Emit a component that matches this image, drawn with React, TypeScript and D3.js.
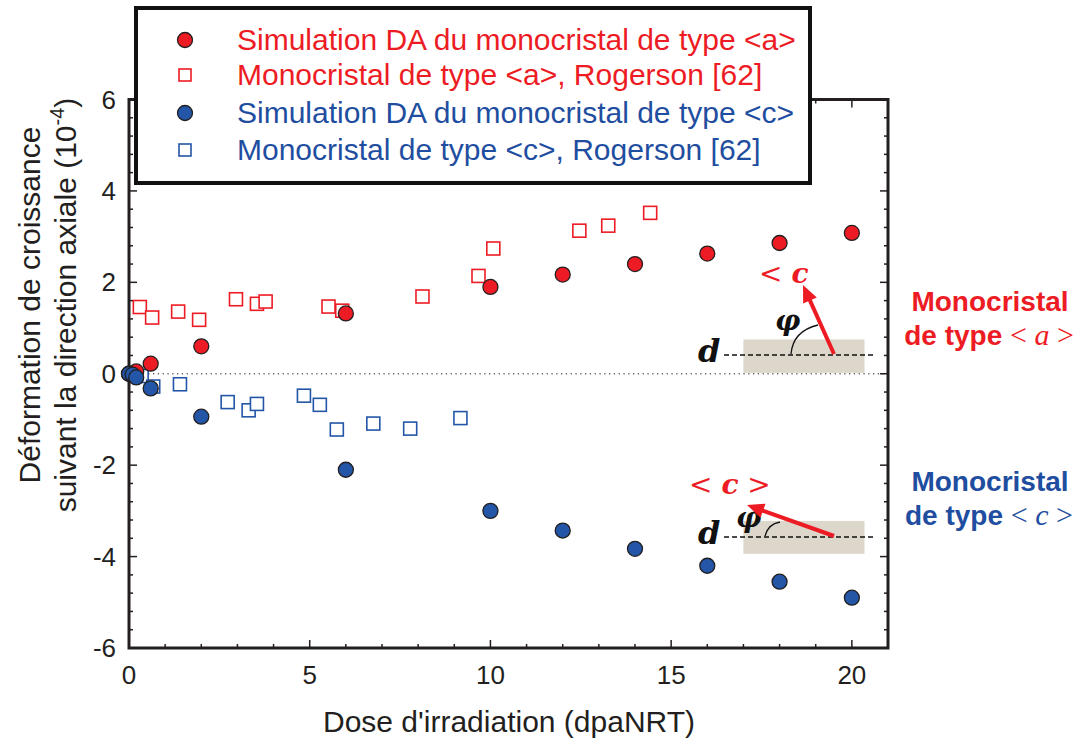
import React from "react";
import * as d3 from "d3";

const simAX = [0, 0.2, 0.6, 2, 6, 10, 12, 14, 16, 18, 20];
const simAY = [0, 0.05, 0.22, 0.6, 1.32, 1.9, 2.17, 2.4, 2.63, 2.86, 3.08];
const simCX = [0, 0.1, 0.2, 0.6, 2, 6, 10, 12, 14, 16, 18, 20];
const simCY = [0, -0.02, -0.08, -0.32, -0.94, -2.1, -3.0, -3.43, -3.83, -4.2, -4.55, -4.9];
const rogAX = [0.3, 0.64, 1.36, 1.94, 2.96, 3.54, 3.78, 5.52, 5.9, 8.12, 9.67, 10.08, 12.46, 13.26, 14.42];
const rogAY = [1.46, 1.23, 1.36, 1.18, 1.63, 1.53, 1.58, 1.47, 1.38, 1.69, 2.14, 2.74, 3.13, 3.24, 3.52];
const rogCX = [0.35, 0.67, 1.41, 2.73, 3.31, 3.54, 4.84, 5.28, 5.75, 6.76, 7.78, 9.17];
const rogCY = [-0.05, -0.28, -0.23, -0.62, -0.8, -0.66, -0.48, -0.68, -1.22, -1.09, -1.2, -0.97];
const xMajorTicks = [0, 5, 10, 15, 20];
const yMajorTicks = [-6, -4, -2, 0, 2, 4, 6];
const legendLabels = [
  "Simulation DA du monocristal de type <a>",
  "Monocristal de type <a>, Rogerson [62]",
  "Simulation DA du monocristal de type <c>",
  "Monocristal de type <c>, Rogerson [62]",
];

const RED = "#ed1c24";
const BLUE = "#2356a6";
const BLUE_TXT = "#1f4ea0";
const DARK = "#231f20";
const SANS = "'Liberation Sans', Arial, sans-serif";
const SERIF = "'DejaVu Serif', 'Liberation Serif', serif";
const SERIF2 = "'Liberation Serif', serif";

const L = 129, R = 888, T = 99.5, B = 648;

export default function App() {
  const x = d3.scaleLinear().domain([0, 21]).range([L, R]);
  const y = d3.scaleLinear().domain([-6, 6]).range([B, T]);
  const xMinor = d3.range(0, 21.01, 1);
  const yMinor = d3.range(-6, 6.01, 0.4);
  const pts = (xs: number[], ys: number[]) => xs.map((v, i) => [v, ys[i]] as [number, number]);

  const arrow = (x1: number, y1: number, x2: number, y2: number) => {
    const dx = x2 - x1, dy = y2 - y1;
    const len = Math.hypot(dx, dy);
    const ux = dx / len, uy = dy / len;
    const hl = 17, hw = 7.5;
    const bx = x2 - ux * hl, by = y2 - uy * hl;
    const p = [
      [x2, y2],
      [bx - uy * hw, by + ux * hw],
      [bx + uy * hw, by - ux * hw],
    ];
    return (
      <g>
        <line x1={x1} y1={y1} x2={bx + ux * 2} y2={by + uy * 2} stroke={RED} strokeWidth={4} />
        <polygon points={p.map((q) => q.join(",")).join(" ")} fill={RED} />
      </g>
    );
  };

  return (
    <svg width={1082} height={745} style={{ position: "absolute", left: 0, top: 0, background: "#fff" }} fontFamily={SANS}>
      {/* zero line */}
      <line x1={L} x2={R} y1={y(0)} y2={y(0)} stroke="#666" strokeWidth={1.3} strokeDasharray="1.3,3.5" />
      {/* ticks */}
      {xMinor.map((t) => {
        const len = xMajorTicks.includes(t) ? 8 : 4;
        return (
          <g key={"xt" + t}>
            <line x1={x(t)} x2={x(t)} y1={B} y2={B - len} stroke={DARK} strokeWidth={1.5} />
            <line x1={x(t)} x2={x(t)} y1={T} y2={T + len} stroke={DARK} strokeWidth={1.5} />
          </g>
        );
      })}
      {yMinor.map((t) => {
        const major = yMajorTicks.some((m) => Math.abs(m - t) < 1e-6);
        const len = major ? 8 : 4;
        return (
          <g key={"yt" + t}>
            <line x1={L} x2={L + len} y1={y(t)} y2={y(t)} stroke={DARK} strokeWidth={1.5} />
            <line x1={R} x2={R - len} y1={y(t)} y2={y(t)} stroke={DARK} strokeWidth={1.5} />
          </g>
        );
      })}
      <rect x={L} y={T} width={R - L} height={B - T} fill="none" stroke={DARK} strokeWidth={3} />
      {/* tick labels */}
      {xMajorTicks.map((t) => (
        <text key={"xl" + t} x={x(t)} y={684} textAnchor="middle" fontSize={26} fill={DARK}>
          {t}
        </text>
      ))}
      {yMajorTicks.map((t) => (
        <text key={"yl" + t} x={116} y={y(t) + 9} textAnchor="end" fontSize={26} fill={DARK}>
          {t}
        </text>
      ))}
      {/* axis titles */}
      <text x={509} y={732} textAnchor="middle" fontSize={30} fill={DARK}>
        Dose d'irradiation (dpaNRT)
      </text>
      <g transform="translate(30,305) rotate(-90)">
        <text x={0} y={10} textAnchor="middle" fontSize={30} fill={DARK}>
          Déformation de croissance
        </text>
      </g>
      <g transform="translate(66,305) rotate(-90)">
        <text x={0} y={10} textAnchor="middle" fontSize={30} fill={DARK}>
          suivant la direction axiale (10
          <tspan fontSize={20} dy={-12}>-4</tspan>
          <tspan dy={12}>)</tspan>
        </text>
      </g>

      {/* insets */}
      <rect x={x(17)} y={y(0.75)} width={x(20.35) - x(17)} height={y(0.02) - y(0.75)} fill="#ddd6ca" />
      <line x1={724} x2={874} y1={355} y2={355} stroke="#111" strokeWidth={1.5} strokeDasharray="5,3" />
      <text x={698} y={362} fontSize={32} fontFamily={SERIF} fontStyle="italic" fontWeight="bold" fill="#111">d</text>
      <path d="M791,354 Q793,331 818,325" fill="none" stroke="#111" strokeWidth={1.3} />
      <text x={775} y={330} fontSize={28} fontFamily={SERIF} fontStyle="italic" fontWeight="bold" fill="#111">φ</text>
      {arrow(834, 354, 803, 285)}
      <text x={759} y={283} fontSize={28} fontFamily={SERIF} fill={RED}>
        &lt; <tspan fontStyle="italic" fontWeight="bold">c</tspan>
      </text>

      <rect x={x(17)} y={y(-3.22)} width={x(20.35) - x(17)} height={y(-3.94) - y(-3.22)} fill="#ddd6ca" />
      <line x1={724} x2={874} y1={537} y2={537} stroke="#111" strokeWidth={1.5} strokeDasharray="5,3" />
      <text x={698} y={544} fontSize={32} fontFamily={SERIF} fontStyle="italic" fontWeight="bold" fill="#111">d</text>
      <path d="M765,536 Q768,524 780,522" fill="none" stroke="#111" strokeWidth={1.3} />
      <text x={736} y={527} fontSize={28} fontFamily={SERIF} fontStyle="italic" fontWeight="bold" fill="#111">φ</text>
      {arrow(834, 536, 747, 505)}
      <text x={689} y={494} fontSize={28} fontFamily={SERIF} fill={RED}>
        &lt; <tspan fontStyle="italic" fontWeight="bold">c</tspan> &gt;
      </text>

      {/* right labels */}
      <text x={990} y={311} textAnchor="middle" fontSize={28} fontWeight="bold" fill={RED}>Monocristal</text>
      <text x={989} y={345} textAnchor="middle" fontSize={28} fontWeight="bold" fill={RED}>
        de type <tspan fontFamily={SERIF2} fontWeight="normal" fontSize={30}>&lt; <tspan fontStyle="italic">a</tspan> &gt;</tspan>
      </text>
      <text x={990} y={491} textAnchor="middle" fontSize={28} fontWeight="bold" fill={BLUE_TXT}>Monocristal</text>
      <text x={989} y={525} textAnchor="middle" fontSize={28} fontWeight="bold" fill={BLUE_TXT}>
        de type <tspan fontFamily={SERIF2} fontWeight="normal" fontSize={30}>&lt; <tspan fontStyle="italic">c</tspan> &gt;</tspan>
      </text>

      {/* data */}
      {pts(rogAX, rogAY).map(([a, b], i) => (
        <rect key={"ra" + i} x={x(a) - 6.5} y={y(b) - 6.5} width={13} height={13} fill="#fff" stroke={RED} strokeWidth={1.6} />
      ))}
      {pts(rogCX, rogCY).map(([a, b], i) => (
        <rect key={"rc" + i} x={x(a) - 6.5} y={y(b) - 6.5} width={13} height={13} fill="#fff" stroke={BLUE} strokeWidth={1.6} />
      ))}
      {pts(simAX, simAY).map(([a, b], i) => (
        <circle key={"sa" + i} cx={x(a)} cy={y(b)} r={7.5} fill={RED} stroke={DARK} strokeWidth={1.3} />
      ))}
      {pts(simCX, simCY).map(([a, b], i) => (
        <circle key={"sc" + i} cx={x(a)} cy={y(b)} r={7.5} fill={BLUE} stroke={DARK} strokeWidth={1.3} />
      ))}

      {/* legend */}
      <rect x={136} y={8} width={674} height={175} fill="#fff" stroke="#111" strokeWidth={4} />
      <circle cx={185} cy={40} r={7.5} fill={RED} stroke={DARK} strokeWidth={1.3} />
      <rect x={179} y={69} width={12} height={12} fill="#fff" stroke={RED} strokeWidth={1.6} />
      <circle cx={185} cy={113} r={7.5} fill={BLUE} stroke={DARK} strokeWidth={1.3} />
      <rect x={179} y={144} width={12} height={12} fill="#fff" stroke={BLUE} strokeWidth={1.6} />
      {legendLabels.map((l, i) => (
        <text key={l} x={237} y={[40, 75, 113, 150][i] + 10} fontSize={30} fill={i < 2 ? RED : BLUE_TXT}>
          {l}
        </text>
      ))}
    </svg>
  );
}
